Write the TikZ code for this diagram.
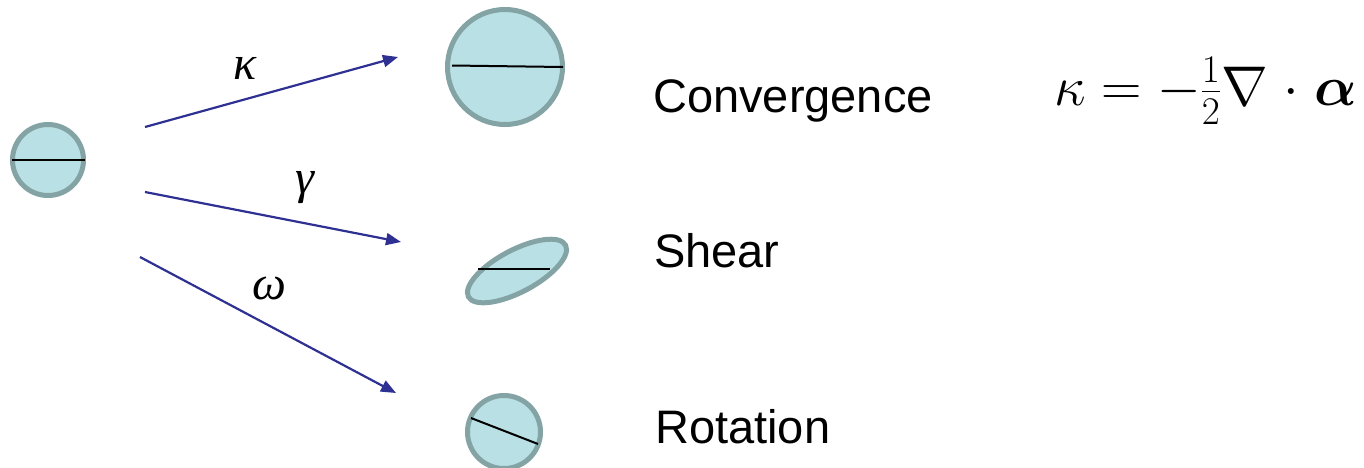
\RequirePackage{fix-cm}
\documentclass[tikz,border=0pt]{standalone}
\usepackage{amsmath}
\usepackage{fontspec}
\newfontfamily\labelfont{Liberation Sans}
\newfontfamily\greekfont{Liberation Serif}
\usetikzlibrary{arrows.meta}
\definecolor{cfill}{RGB}{185,224,228}
\definecolor{cedge}{RGB}{132,163,165}
\definecolor{arr}{RGB}{46,49,146}
\tikzset{
  disc/.style={fill=cfill,draw=cedge,line width=5pt},
  diam/.style={draw=black,line width=2pt},
  link/.style={draw=arr,line width=2.2pt,-{Triangle[length=15pt,width=12pt]}},
  word/.style={font=\labelfont\fontsize{47}{56}\selectfont,inner sep=0pt,anchor=base west},
  glabel/.style={font=\greekfont\itshape\fontsize{48}{56}\selectfont,inner sep=0pt},
}
\begin{document}
\begin{tikzpicture}[x=1pt,y=-1pt]
\useasboundingbox (0,0) rectangle (1364,467);
% source disc
\node[disc,circle,minimum size=71pt,inner sep=0pt] (src) at (48,160) {};
\draw[diam] (12,160) -- (85,160);
% convergence
\node[disc,circle,minimum size=115pt,inner sep=0pt] (conv) at (505,67) {};
\draw[diam] (452,65.5) -- (563,67);
% shear
\draw[disc] (517,271) ellipse[x radius=55, y radius=21, rotate=28];
\coordinate (shear) at (517,271);
\draw[diam] (478,269) -- (550,269);
% rotation
\node[disc,circle,minimum size=73pt,inner sep=0pt] (rot) at (504,432) {};
\draw[diam] (471,418) -- (538,444);
% arrow endpoints
\coordinate (s1) at (145,127);
\coordinate (e1) at (398,57);
\coordinate (s2) at (145,192);
\coordinate (e2) at (401,242);
\coordinate (s3) at (140,257);
\coordinate (e3) at (396,393);
\draw[link] (s1) -- (e1);
\draw[link] (s2) -- (e2);
\draw[link] (s3) -- (e3);
\node[glabel] (lk) at (245,68) {κ};
\node[glabel] (lg) at (305,188) {γ};
\node[glabel] (lw) at (269,288) {ω};
% words
\node[word] (tc) at (653,112) {Convergence};
\node[word] (ts) at (654,267) {Shear};
\node[word] (tr) at (655,443) {Rotation};
% equation
\node[inner sep=0pt,anchor=base west,font=\fontsize{56}{66}\selectfont] (eq) at (1054,105)
  {$\kappa = -\frac{1}{2}\nabla\mkern1mu\cdot\mkern1mu\boldsymbol{\alpha}$};
\end{tikzpicture}
\end{document}
